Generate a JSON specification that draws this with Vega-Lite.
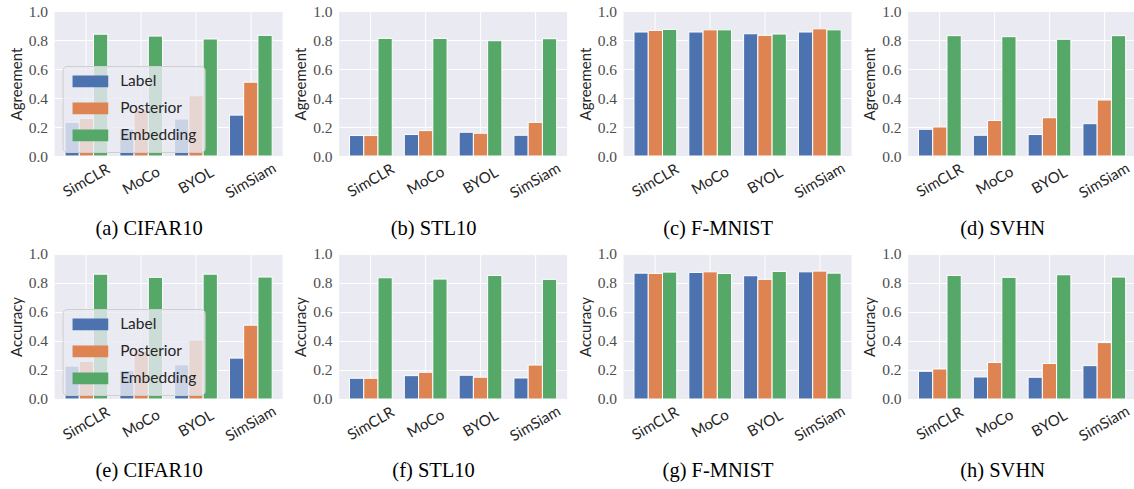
{
  "$schema": "https://vega.github.io/schema/vega-lite/v6.json",
  "padding": {"left": 8.6, "top": 4, "right": 0, "bottom": 0},
  "background": "white",
  "datasets": {
    "all": [
      {"panel":"a","model":"SimCLR","method":"Label","value":0.232},
      {"panel":"a","model":"SimCLR","method":"Posterior","value":0.259},
      {"panel":"a","model":"SimCLR","method":"Embedding","value":0.840},
      {"panel":"a","model":"MoCo","method":"Label","value":0.186},
      {"panel":"a","model":"MoCo","method":"Posterior","value":0.318},
      {"panel":"a","model":"MoCo","method":"Embedding","value":0.827},
      {"panel":"a","model":"BYOL","method":"Label","value":0.255},
      {"panel":"a","model":"BYOL","method":"Posterior","value":0.416},
      {"panel":"a","model":"BYOL","method":"Embedding","value":0.807},
      {"panel":"a","model":"SimSiam","method":"Label","value":0.282},
      {"panel":"a","model":"SimSiam","method":"Posterior","value":0.509},
      {"panel":"a","model":"SimSiam","method":"Embedding","value":0.832},

      {"panel":"b","model":"SimCLR","method":"Label","value":0.141},
      {"panel":"b","model":"SimCLR","method":"Posterior","value":0.141},
      {"panel":"b","model":"SimCLR","method":"Embedding","value":0.811},
      {"panel":"b","model":"MoCo","method":"Label","value":0.148},
      {"panel":"b","model":"MoCo","method":"Posterior","value":0.175},
      {"panel":"b","model":"MoCo","method":"Embedding","value":0.811},
      {"panel":"b","model":"BYOL","method":"Label","value":0.164},
      {"panel":"b","model":"BYOL","method":"Posterior","value":0.157},
      {"panel":"b","model":"BYOL","method":"Embedding","value":0.795},
      {"panel":"b","model":"SimSiam","method":"Label","value":0.143},
      {"panel":"b","model":"SimSiam","method":"Posterior","value":0.232},
      {"panel":"b","model":"SimSiam","method":"Embedding","value":0.809},

      {"panel":"c","model":"SimCLR","method":"Label","value":0.855},
      {"panel":"c","model":"SimCLR","method":"Posterior","value":0.866},
      {"panel":"c","model":"SimCLR","method":"Embedding","value":0.873},
      {"panel":"c","model":"MoCo","method":"Label","value":0.855},
      {"panel":"c","model":"MoCo","method":"Posterior","value":0.870},
      {"panel":"c","model":"MoCo","method":"Embedding","value":0.870},
      {"panel":"c","model":"BYOL","method":"Label","value":0.843},
      {"panel":"c","model":"BYOL","method":"Posterior","value":0.832},
      {"panel":"c","model":"BYOL","method":"Embedding","value":0.841},
      {"panel":"c","model":"SimSiam","method":"Label","value":0.855},
      {"panel":"c","model":"SimSiam","method":"Posterior","value":0.877},
      {"panel":"c","model":"SimSiam","method":"Embedding","value":0.870},

      {"panel":"d","model":"SimCLR","method":"Label","value":0.184},
      {"panel":"d","model":"SimCLR","method":"Posterior","value":0.200},
      {"panel":"d","model":"SimCLR","method":"Embedding","value":0.830},
      {"panel":"d","model":"MoCo","method":"Label","value":0.143},
      {"panel":"d","model":"MoCo","method":"Posterior","value":0.245},
      {"panel":"d","model":"MoCo","method":"Embedding","value":0.823},
      {"panel":"d","model":"BYOL","method":"Label","value":0.148},
      {"panel":"d","model":"BYOL","method":"Posterior","value":0.264},
      {"panel":"d","model":"BYOL","method":"Embedding","value":0.805},
      {"panel":"d","model":"SimSiam","method":"Label","value":0.223},
      {"panel":"d","model":"SimSiam","method":"Posterior","value":0.386},
      {"panel":"d","model":"SimSiam","method":"Embedding","value":0.830},

      {"panel":"e","model":"SimCLR","method":"Label","value":0.227},
      {"panel":"e","model":"SimCLR","method":"Posterior","value":0.259},
      {"panel":"e","model":"SimCLR","method":"Embedding","value":0.861},
      {"panel":"e","model":"MoCo","method":"Label","value":0.198},
      {"panel":"e","model":"MoCo","method":"Posterior","value":0.330},
      {"panel":"e","model":"MoCo","method":"Embedding","value":0.839},
      {"panel":"e","model":"BYOL","method":"Label","value":0.236},
      {"panel":"e","model":"BYOL","method":"Posterior","value":0.407},
      {"panel":"e","model":"BYOL","method":"Embedding","value":0.861},
      {"panel":"e","model":"SimSiam","method":"Label","value":0.282},
      {"panel":"e","model":"SimSiam","method":"Posterior","value":0.509},
      {"panel":"e","model":"SimSiam","method":"Embedding","value":0.841},

      {"panel":"f","model":"SimCLR","method":"Label","value":0.143},
      {"panel":"f","model":"SimCLR","method":"Posterior","value":0.143},
      {"panel":"f","model":"SimCLR","method":"Embedding","value":0.836},
      {"panel":"f","model":"MoCo","method":"Label","value":0.161},
      {"panel":"f","model":"MoCo","method":"Posterior","value":0.184},
      {"panel":"f","model":"MoCo","method":"Embedding","value":0.827},
      {"panel":"f","model":"BYOL","method":"Label","value":0.164},
      {"panel":"f","model":"BYOL","method":"Posterior","value":0.150},
      {"panel":"f","model":"BYOL","method":"Embedding","value":0.852},
      {"panel":"f","model":"SimSiam","method":"Label","value":0.145},
      {"panel":"f","model":"SimSiam","method":"Posterior","value":0.234},
      {"panel":"f","model":"SimSiam","method":"Embedding","value":0.825},

      {"panel":"g","model":"SimCLR","method":"Label","value":0.868},
      {"panel":"g","model":"SimCLR","method":"Posterior","value":0.866},
      {"panel":"g","model":"SimCLR","method":"Embedding","value":0.875},
      {"panel":"g","model":"MoCo","method":"Label","value":0.873},
      {"panel":"g","model":"MoCo","method":"Posterior","value":0.877},
      {"panel":"g","model":"MoCo","method":"Embedding","value":0.866},
      {"panel":"g","model":"BYOL","method":"Label","value":0.850},
      {"panel":"g","model":"BYOL","method":"Posterior","value":0.825},
      {"panel":"g","model":"BYOL","method":"Embedding","value":0.880},
      {"panel":"g","model":"SimSiam","method":"Label","value":0.877},
      {"panel":"g","model":"SimSiam","method":"Posterior","value":0.882},
      {"panel":"g","model":"SimSiam","method":"Embedding","value":0.868},

      {"panel":"h","model":"SimCLR","method":"Label","value":0.191},
      {"panel":"h","model":"SimCLR","method":"Posterior","value":0.207},
      {"panel":"h","model":"SimCLR","method":"Embedding","value":0.852},
      {"panel":"h","model":"MoCo","method":"Label","value":0.152},
      {"panel":"h","model":"MoCo","method":"Posterior","value":0.252},
      {"panel":"h","model":"MoCo","method":"Embedding","value":0.839},
      {"panel":"h","model":"BYOL","method":"Label","value":0.150},
      {"panel":"h","model":"BYOL","method":"Posterior","value":0.245},
      {"panel":"h","model":"BYOL","method":"Embedding","value":0.857},
      {"panel":"h","model":"SimSiam","method":"Label","value":0.230},
      {"panel":"h","model":"SimSiam","method":"Posterior","value":0.389},
      {"panel":"h","model":"SimSiam","method":"Embedding","value":0.841}
    ]
  },
  "columns": 4,
  "spacing": {"row": 8, "column": 10.5},
  "resolve": {"scale": {"color": "independent"}, "legend": {"color": "independent"}},
  "concat": [
    {
      "width": 228, "height": 145,
      "data": {"name": "all"},
      "transform": [{"filter": "datum.panel === 'a'"}],
      "mark": {"type": "bar", "stroke": "white", "strokeWidth": 1},
      "encoding": {
        "x": {"field": "model", "type": "nominal", "sort": ["SimCLR","MoCo","BYOL","SimSiam"], "scale": {"paddingInner": 0.22, "paddingOuter": 0.19}, "axis": {"title": "(a) CIFAR10"}},
        "xOffset": {"field": "method", "type": "nominal", "sort": ["Label","Posterior","Embedding"], "scale": {"paddingInner": 0, "paddingOuter": 0}},
        "y": {"field": "value", "type": "quantitative", "scale": {"domain": [0, 1], "nice": false}, "axis": {"title": "Agreement", "values": [0, 0.2, 0.4, 0.6, 0.8, 1.0], "format": ".1f"}},
        "color": {"field": "method", "type": "nominal", "sort": ["Label","Posterior","Embedding"], "scale": {"domain": ["Label","Posterior","Embedding"], "range": ["#4C72B0","#DD8452","#55A868"]},
          "legend": {"orient": "none", "legendX": 8, "legendY": 55, "title": null, "fillColor": "rgba(234,234,242,0.8)", "strokeColor": "#cfcfcf", "cornerRadius": 4, "padding": 7.7, "symbolType": "M-3.245,-1.06H3.245V1.06H-3.245Z", "symbolSize": 121, "symbolOffset": 12.35, "symbolStrokeWidth": 0, "symbolOpacity": 1, "labelFont": "Lato", "labelFontSize": 15.5, "labelColor": "#262626", "labelOffset": 22, "rowPadding": 10}}
      }
    },
    {
      "width": 228, "height": 145,
      "data": {"name": "all"},
      "transform": [{"filter": "datum.panel === 'b'"}],
      "mark": {"type": "bar", "stroke": "white", "strokeWidth": 1},
      "encoding": {
        "x": {"field": "model", "type": "nominal", "sort": ["SimCLR","MoCo","BYOL","SimSiam"], "scale": {"paddingInner": 0.22, "paddingOuter": 0.19}, "axis": {"title": "(b) STL10"}},
        "xOffset": {"field": "method", "type": "nominal", "sort": ["Label","Posterior","Embedding"], "scale": {"paddingInner": 0, "paddingOuter": 0}},
        "y": {"field": "value", "type": "quantitative", "scale": {"domain": [0, 1], "nice": false}, "axis": {"title": "Agreement", "values": [0, 0.2, 0.4, 0.6, 0.8, 1.0], "format": ".1f"}},
        "color": {"field": "method", "type": "nominal", "scale": {"domain": ["Label","Posterior","Embedding"], "range": ["#4C72B0","#DD8452","#55A868"]}, "legend": null}
      }
    },
    {
      "width": 228, "height": 145,
      "data": {"name": "all"},
      "transform": [{"filter": "datum.panel === 'c'"}],
      "mark": {"type": "bar", "stroke": "white", "strokeWidth": 1},
      "encoding": {
        "x": {"field": "model", "type": "nominal", "sort": ["SimCLR","MoCo","BYOL","SimSiam"], "scale": {"paddingInner": 0.22, "paddingOuter": 0.19}, "axis": {"title": "(c) F-MNIST"}},
        "xOffset": {"field": "method", "type": "nominal", "sort": ["Label","Posterior","Embedding"], "scale": {"paddingInner": 0, "paddingOuter": 0}},
        "y": {"field": "value", "type": "quantitative", "scale": {"domain": [0, 1], "nice": false}, "axis": {"title": "Agreement", "values": [0, 0.2, 0.4, 0.6, 0.8, 1.0], "format": ".1f"}},
        "color": {"field": "method", "type": "nominal", "scale": {"domain": ["Label","Posterior","Embedding"], "range": ["#4C72B0","#DD8452","#55A868"]}, "legend": null}
      }
    },
    {
      "width": 228, "height": 145,
      "data": {"name": "all"},
      "transform": [{"filter": "datum.panel === 'd'"}],
      "mark": {"type": "bar", "stroke": "white", "strokeWidth": 1},
      "encoding": {
        "x": {"field": "model", "type": "nominal", "sort": ["SimCLR","MoCo","BYOL","SimSiam"], "scale": {"paddingInner": 0.22, "paddingOuter": 0.19}, "axis": {"title": "(d) SVHN"}},
        "xOffset": {"field": "method", "type": "nominal", "sort": ["Label","Posterior","Embedding"], "scale": {"paddingInner": 0, "paddingOuter": 0}},
        "y": {"field": "value", "type": "quantitative", "scale": {"domain": [0, 1], "nice": false}, "axis": {"title": "Agreement", "values": [0, 0.2, 0.4, 0.6, 0.8, 1.0], "format": ".1f"}},
        "color": {"field": "method", "type": "nominal", "scale": {"domain": ["Label","Posterior","Embedding"], "range": ["#4C72B0","#DD8452","#55A868"]}, "legend": null}
      }
    },
    {
      "width": 228, "height": 145,
      "data": {"name": "all"},
      "transform": [{"filter": "datum.panel === 'e'"}],
      "mark": {"type": "bar", "stroke": "white", "strokeWidth": 1},
      "encoding": {
        "x": {"field": "model", "type": "nominal", "sort": ["SimCLR","MoCo","BYOL","SimSiam"], "scale": {"paddingInner": 0.22, "paddingOuter": 0.19}, "axis": {"title": "(e) CIFAR10"}},
        "xOffset": {"field": "method", "type": "nominal", "sort": ["Label","Posterior","Embedding"], "scale": {"paddingInner": 0, "paddingOuter": 0}},
        "y": {"field": "value", "type": "quantitative", "scale": {"domain": [0, 1], "nice": false}, "axis": {"title": "Accuracy", "values": [0, 0.2, 0.4, 0.6, 0.8, 1.0], "format": ".1f"}},
        "color": {"field": "method", "type": "nominal", "sort": ["Label","Posterior","Embedding"], "scale": {"domain": ["Label","Posterior","Embedding"], "range": ["#4C72B0","#DD8452","#55A868"]},
          "legend": {"orient": "none", "legendX": 8, "legendY": 55, "title": null, "fillColor": "rgba(234,234,242,0.8)", "strokeColor": "#cfcfcf", "cornerRadius": 4, "padding": 7.7, "symbolType": "M-3.245,-1.06H3.245V1.06H-3.245Z", "symbolSize": 121, "symbolOffset": 12.35, "symbolStrokeWidth": 0, "symbolOpacity": 1, "labelFont": "Lato", "labelFontSize": 15.5, "labelColor": "#262626", "labelOffset": 22, "rowPadding": 10}}
      }
    },
    {
      "width": 228, "height": 145,
      "data": {"name": "all"},
      "transform": [{"filter": "datum.panel === 'f'"}],
      "mark": {"type": "bar", "stroke": "white", "strokeWidth": 1},
      "encoding": {
        "x": {"field": "model", "type": "nominal", "sort": ["SimCLR","MoCo","BYOL","SimSiam"], "scale": {"paddingInner": 0.22, "paddingOuter": 0.19}, "axis": {"title": "(f) STL10"}},
        "xOffset": {"field": "method", "type": "nominal", "sort": ["Label","Posterior","Embedding"], "scale": {"paddingInner": 0, "paddingOuter": 0}},
        "y": {"field": "value", "type": "quantitative", "scale": {"domain": [0, 1], "nice": false}, "axis": {"title": "Accuracy", "values": [0, 0.2, 0.4, 0.6, 0.8, 1.0], "format": ".1f"}},
        "color": {"field": "method", "type": "nominal", "scale": {"domain": ["Label","Posterior","Embedding"], "range": ["#4C72B0","#DD8452","#55A868"]}, "legend": null}
      }
    },
    {
      "width": 228, "height": 145,
      "data": {"name": "all"},
      "transform": [{"filter": "datum.panel === 'g'"}],
      "mark": {"type": "bar", "stroke": "white", "strokeWidth": 1},
      "encoding": {
        "x": {"field": "model", "type": "nominal", "sort": ["SimCLR","MoCo","BYOL","SimSiam"], "scale": {"paddingInner": 0.22, "paddingOuter": 0.19}, "axis": {"title": "(g) F-MNIST"}},
        "xOffset": {"field": "method", "type": "nominal", "sort": ["Label","Posterior","Embedding"], "scale": {"paddingInner": 0, "paddingOuter": 0}},
        "y": {"field": "value", "type": "quantitative", "scale": {"domain": [0, 1], "nice": false}, "axis": {"title": "Accuracy", "values": [0, 0.2, 0.4, 0.6, 0.8, 1.0], "format": ".1f"}},
        "color": {"field": "method", "type": "nominal", "scale": {"domain": ["Label","Posterior","Embedding"], "range": ["#4C72B0","#DD8452","#55A868"]}, "legend": null}
      }
    },
    {
      "width": 228, "height": 145,
      "data": {"name": "all"},
      "transform": [{"filter": "datum.panel === 'h'"}],
      "mark": {"type": "bar", "stroke": "white", "strokeWidth": 1},
      "encoding": {
        "x": {"field": "model", "type": "nominal", "sort": ["SimCLR","MoCo","BYOL","SimSiam"], "scale": {"paddingInner": 0.22, "paddingOuter": 0.19}, "axis": {"title": "(h) SVHN"}},
        "xOffset": {"field": "method", "type": "nominal", "sort": ["Label","Posterior","Embedding"], "scale": {"paddingInner": 0, "paddingOuter": 0}},
        "y": {"field": "value", "type": "quantitative", "scale": {"domain": [0, 1], "nice": false}, "axis": {"title": "Accuracy", "values": [0, 0.2, 0.4, 0.6, 0.8, 1.0], "format": ".1f"}},
        "color": {"field": "method", "type": "nominal", "scale": {"domain": ["Label","Posterior","Embedding"], "range": ["#4C72B0","#DD8452","#55A868"]}, "legend": null}
      }
    }
  ],
  "config": {
    "view": {"fill": "#EAEAF2", "stroke": null},
    "axis": {"grid": true, "gridColor": "white", "gridWidth": 1, "domain": false, "ticks": false, "labelFlush": false, "labelOverlap": false},
    "axisX": {"labelAngle": -30, "labelAlign": "center", "labelBaseline": "middle", "labelPadding": 24, "labelFont": "Lato", "labelFontSize": 15, "labelColor": "#262626", "titleFont": "Liberation Serif", "titleFontSize": 20.5, "titleFontWeight": "normal", "titleColor": "black", "titleX": 94, "titleY": 78, "titleAlign": "center", "titleBaseline": "alphabetic"},
    "axisY": {"labelFont": "Liberation Serif", "labelFontSize": 15.5, "labelColor": "#4d4d4d", "labelPadding": 7, "titleFont": "Lato", "titleFontSize": 15, "titleFontWeight": "normal", "titleColor": "#262626", "titlePadding": 4}
  }
}
